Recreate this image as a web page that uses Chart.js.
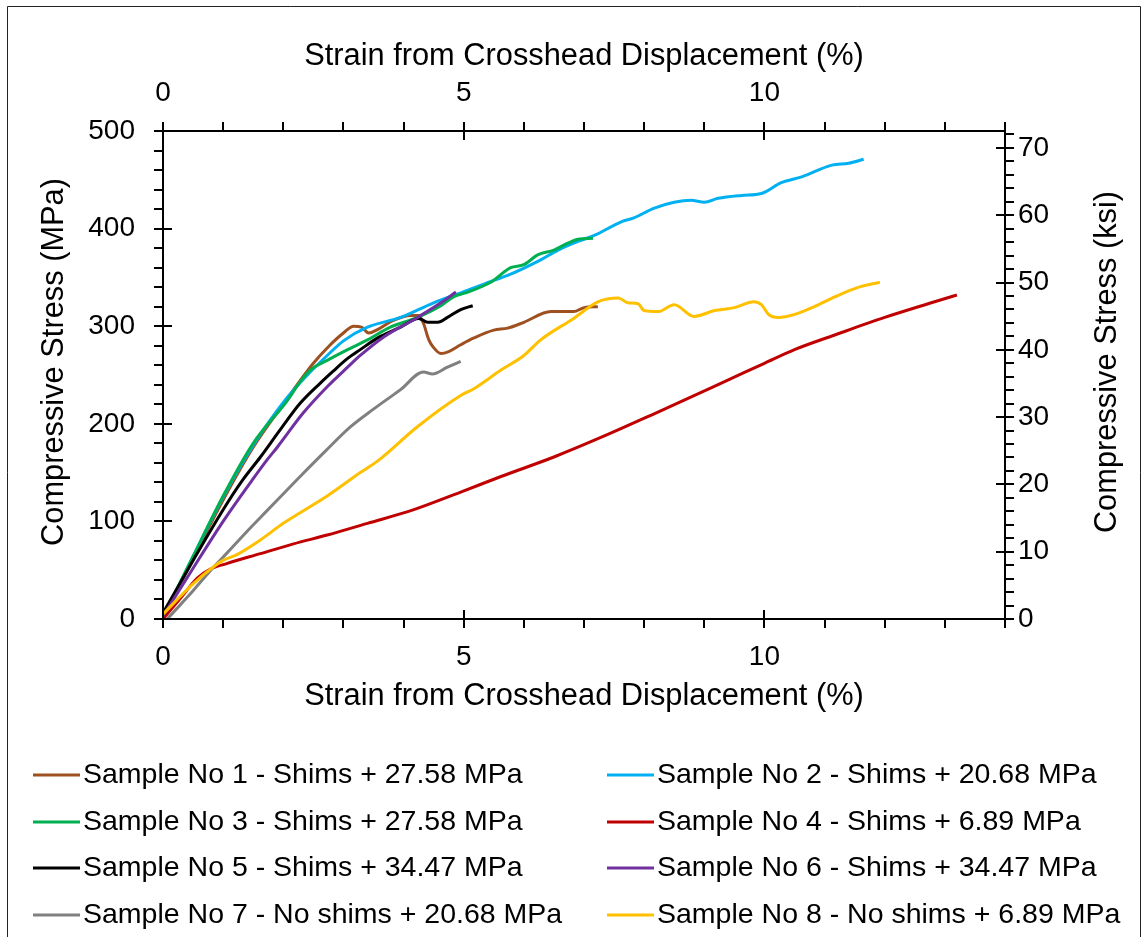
<!DOCTYPE html>
<html lang="en">
<head>
<meta charset="utf-8">
<title>Compressive Stress vs Strain</title>
<script src="https://cdn.jsdelivr.net/npm/chart.js"></script>
<style>
    html, body { margin: 0; padding: 0; background: #fff; }
    canvas { display: block; }
</style>
</head>
<body>
<canvas id="stress" width="1143" height="937"></canvas>

<script>
    // strain (%) and compressive stress (MPa) for each sample
    const strain1 = [0, 0.5, 1.0, 1.5, 2.0, 2.5, 2.75, 3.0, 3.17, 3.3, 3.42, 3.55, 3.83, 4.12, 4.25, 4.33, 4.42, 4.5, 4.62, 4.75, 4.95, 5.17, 5.5, 5.73, 6.0, 6.45, 6.83, 7.0, 7.23];
    const stress1 = [0, 62, 122, 176, 220, 262, 279, 293, 300, 299, 293, 296, 306, 311, 311, 303, 286, 278, 272, 274, 281, 288, 296, 298, 304, 315, 315, 319, 320];

    const strain2 = [0, 0.5, 1.0, 1.5, 2.0, 2.4, 2.73, 3.0, 3.4, 3.95, 4.5, 5.07, 5.5, 5.73, 6.28, 6.57, 6.95, 7.17, 7.62, 7.83, 8.17, 8.5, 8.78, 9.0, 9.23, 9.62, 9.95, 10.28, 10.62, 11.12, 11.4, 11.65];
    const stress2 = [0, 64, 125, 178, 222, 250, 270, 285, 299, 309, 324, 337, 347, 352, 368, 378, 388, 393, 407, 411, 421, 427, 429, 427, 431, 434, 436, 447, 453, 465, 467, 471];

    const strain3 = [0, 0.5, 1.0, 1.5, 2.07, 2.28, 2.45, 2.73, 3.07, 3.4, 3.78, 4.23, 4.62, 4.83, 5.07, 5.45, 5.78, 6.0, 6.23, 6.5, 6.73, 6.9, 7.15];
    const stress3 = [2, 64, 126, 180, 224, 243, 255, 265, 276, 286, 299, 309, 321, 330, 335, 345, 360, 363, 373, 378, 385, 389, 390];

    const strain4 = [0, 0.3, 0.57, 0.78, 1.07, 1.62, 2.17, 2.73, 3.4, 4.17, 4.95, 5.62, 6.5, 7.28, 8.12, 9.4, 10.0, 10.5, 11.17, 12.0, 12.83, 13.2];
    const stress4 = [0, 22, 42, 51, 57, 67, 77, 86, 98, 112, 130, 146, 166, 186, 209, 245, 262, 276, 291, 309, 325, 332];

    const strain5 = [0, 0.5, 1.0, 1.32, 1.62, 1.95, 2.28, 2.62, 2.83, 3.07, 3.28, 3.57, 3.95, 4.25, 4.4, 4.57, 4.73, 4.95, 5.15];
    const stress5 = [6, 60, 112, 142, 166, 194, 221, 242, 254, 267, 276, 288, 299, 308, 304, 304, 309, 317, 321];

    const strain6 = [0, 0.5, 1.0, 1.48, 1.73, 1.9, 2.33, 2.73, 3.07, 3.28, 3.67, 4.23, 4.62, 4.87];
    const stress6 = [3, 52, 100, 142, 163, 176, 211, 238, 258, 270, 289, 309, 324, 335];

    const strain7 = [0.07, 0.5, 0.78, 1.07, 1.4, 1.73, 2.28, 2.7, 3.12, 3.5, 3.95, 4.33, 4.48, 4.73, 4.95];
    const stress7 = [0, 29, 49, 68, 90, 111, 146, 172, 197, 215, 235, 253, 251, 258, 264];

    const strain8 = [0, 0.5, 0.83, 1.0, 1.23, 1.62, 2.0, 2.73, 3.28, 3.57, 4.23, 4.95, 5.17, 5.62, 6.0, 6.28, 6.83, 7.23, 7.57, 7.73, 7.9, 8.0, 8.23, 8.5, 8.83, 9.17, 9.5, 9.83, 9.95, 10.07, 10.23, 10.5, 10.83, 11.17, 11.57, 11.92];
    const stress8 = [5, 36, 53, 60, 66, 81, 98, 126, 150, 162, 197, 229, 236, 255, 270, 286, 308, 325, 329, 324, 323, 316, 315, 322, 310, 316, 319, 325, 322, 312, 309, 312, 320, 330, 340, 345];

    const sampleLabels = [
        'Sample No 1 - Shims + 27.58 MPa',
        'Sample No 2 - Shims + 20.68 MPa',
        'Sample No 3 - Shims + 27.58 MPa',
        'Sample No 4 - Shims + 6.89 MPa',
        'Sample No 5 - Shims + 34.47 MPa',
        'Sample No 6 - Shims + 34.47 MPa',
        'Sample No 7 - No shims + 20.68 MPa',
        'Sample No 8 - No shims + 6.89 MPa'
    ];
    const sampleColors = ['#9E5020', '#00B0F0', '#00B050', '#C00000', '#000000', '#7030A0', '#808080', '#FFC000'];

    const strains = [strain1, strain2, strain3, strain4, strain5, strain6, strain7, strain8];
    const stresses = [stress1, stress2, stress3, stress4, stress5, stress6, stress7, stress8];

    const strainMax = 14;
    const stressMax = 500;
    const MPA_PER_KSI = 6.89476;

    const FONT = "'Liberation Sans', Arial, sans-serif";
    Chart.defaults.font.family = FONT;
    Chart.defaults.color = '#000';

    // tick marks: majors cross the axis, minors point outwards
    const axisTicks = {
        id: 'axisTicks',
        afterDraw(chart) {
            const ctx = chart.ctx;
            const a = chart.chartArea;
            ctx.save();
            ctx.strokeStyle = '#000';
            ctx.lineWidth = 2;
            const line = (x1, y1, x2, y2) => {
                ctx.beginPath(); ctx.moveTo(x1, y1); ctx.lineTo(x2, y2); ctx.stroke();
            };
            const xs = chart.scales.x;
            for (let v = 0; v <= strainMax; v += 1) {
                const px = Math.round(xs.getPixelForValue(v));
                const major = v % 5 === 0;
                line(px, a.bottom - (major ? 9 : 0), px, a.bottom + 9);
                line(px, a.top + (major ? 9 : 0), px, a.top - 9);
            }
            const ys = chart.scales.y;
            for (let v = 0; v <= stressMax; v += 20) {
                const py = Math.round(ys.getPixelForValue(v));
                const major = v % 100 === 0;
                line(a.left - 9, py, a.left + (major ? 9 : 0), py);
            }
            const y2 = chart.scales.y2;
            for (let v = 0; v <= y2.max; v += 2) {
                const py = Math.round(y2.getPixelForValue(v));
                const major = v % 10 === 0;
                line(a.right - (major ? 9 : 0), py, a.right + 9, py);
            }
            ctx.restore();
        }
    };

    // both stress titles read bottom to top, plus the legend and outer frame
    const extras = {
        id: 'extras',
        afterDraw(chart) {
            const ctx = chart.ctx;
            const vTitle = (text, x, y) => {
                ctx.save();
                ctx.fillStyle = '#000';
                ctx.font = '30.8px ' + FONT;
                ctx.textAlign = 'center';
                ctx.textBaseline = 'middle';
                ctx.translate(x, y);
                ctx.rotate(-Math.PI / 2);
                ctx.fillText(text, 0, 0);
                ctx.restore();
            };
            vTitle('Compressive Stress (MPa)', 55, 362);
            vTitle('Compressive Stress (ksi)', 1108, 362);

            ctx.save();
            ctx.font = '28.5px ' + FONT;
            ctx.textBaseline = 'middle';
            ctx.textAlign = 'left';
            ctx.lineWidth = 3;
            const cols = [33, 607];
            const rows = [775, 822, 868, 915];
            chart.data.datasets.forEach((ds, i) => {
                const x = cols[i % 2];
                const y = rows[Math.floor(i / 2)];
                ctx.strokeStyle = ds.borderColor;
                ctx.beginPath(); ctx.moveTo(x, y); ctx.lineTo(x + 47, y); ctx.stroke();
                ctx.fillStyle = '#000';
                ctx.fillText(ds.label, x + 50, y);
            });

            ctx.strokeStyle = '#222';
            ctx.lineWidth = 1;
            ctx.beginPath();
            ctx.moveTo(7.5, 940); ctx.lineTo(7.5, 6.5); ctx.lineTo(1140.5, 6.5); ctx.lineTo(1140.5, 940);
            ctx.stroke();
            ctx.restore();
        }
    };

    const datasets = sampleLabels.map((label, i) => ({
        label: label,
        data: strains[i].map((x, k) => ({ x: x, y: stresses[i][k] })),
        borderColor: sampleColors[i],
        backgroundColor: sampleColors[i],
        borderWidth: 3,
        pointRadius: 0,
        showLine: true,
        cubicInterpolationMode: 'monotone',
        order: sampleLabels.length - i,
        yAxisID: 'y'
    }));

    const tickFont = { size: 28 };
    const titleFont = { size: 30.8 };

    new Chart(document.getElementById('stress').getContext('2d'), {
        type: 'scatter',
        data: { datasets: datasets },
        options: {
            responsive: false,
            animation: false,
            layout: { padding: { left: 37, right: 17, top: 38, bottom: 222 } },
            plugins: { legend: { display: false }, tooltip: { enabled: false } },
            scales: {
                x: {
                    type: 'linear', position: 'bottom', min: 0, max: strainMax,
                    grid: { display: false, drawTicks: false },
                    border: { display: true, color: '#000', width: 2 },
                    ticks: { stepSize: 5, padding: 21, font: tickFont, maxRotation: 0, autoSkip: false, includeBounds: false },
                    title: { display: true, text: 'Strain from Crosshead Displacement (%)', font: titleFont, padding: 0 },
                    afterFit: s => { s.height = 96; }
                },
                x2: {
                    type: 'linear', position: 'top', min: 0, max: strainMax,
                    grid: { display: false, drawTicks: false },
                    border: { display: true, color: '#000', width: 2 },
                    ticks: { stepSize: 5, padding: 21, font: tickFont, maxRotation: 0, autoSkip: false, includeBounds: false },
                    title: { display: true, text: 'Strain from Crosshead Displacement (%)', font: titleFont, padding: 0 },
                    afterFit: s => { s.height = 93; }
                },
                y: {
                    type: 'linear', position: 'left', min: 0, max: stressMax,
                    grid: { display: false, drawTicks: false },
                    border: { display: true, color: '#000', width: 2 },
                    ticks: { stepSize: 100, padding: 28, font: tickFont, autoSkip: false },
                    title: { display: false },
                    afterFit: s => { s.width = 126; }
                },
                y2: {
                    type: 'linear', position: 'right', min: 0, max: stressMax / MPA_PER_KSI,
                    grid: { display: false, drawTicks: false },
                    border: { display: true, color: '#000', width: 2 },
                    ticks: { stepSize: 10, padding: 13, font: tickFont, autoSkip: false, includeBounds: false },
                    title: { display: false },
                    afterFit: s => { s.width = 121; }
                }
            }
        },
        plugins: [axisTicks, extras]
    });
</script>
</body>
</html>
